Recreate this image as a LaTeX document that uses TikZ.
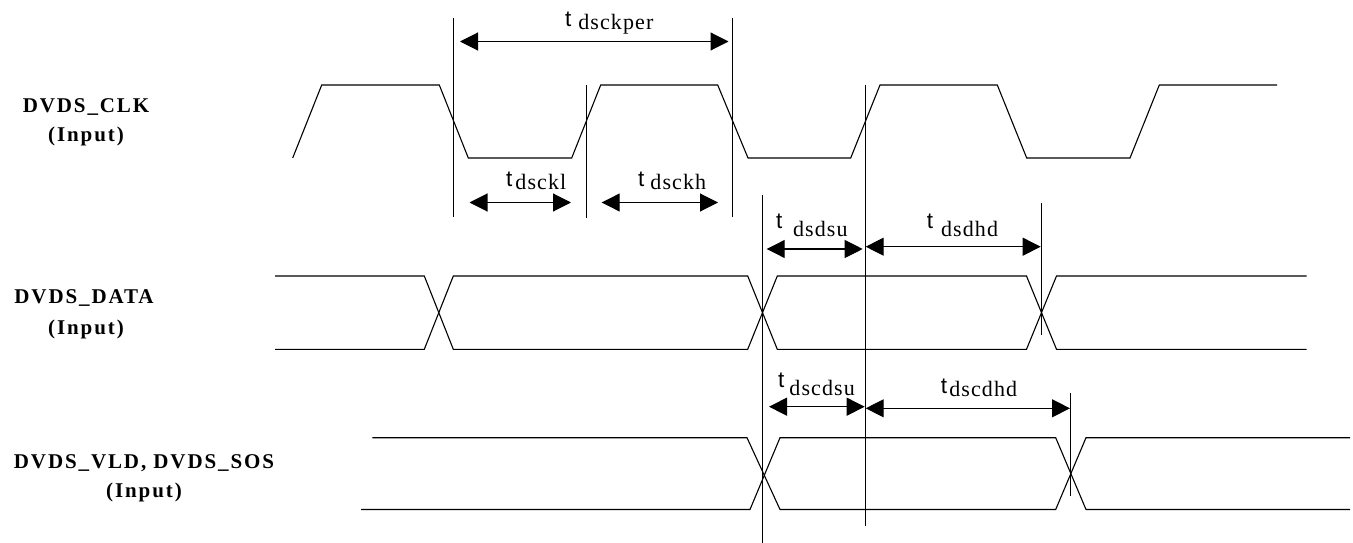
\documentclass[tikz,border=0pt]{standalone}
\usepackage{fontspec}
\setmainfont{Liberation Serif}
\newfontfamily\sigfont[LetterSpace=9]{Liberation Serif}
\newfontfamily\tfont{Liberation Sans}
\newfontfamily\subfont[LetterSpace=5]{Liberation Serif}
\usetikzlibrary{arrows.meta}
\newcommand\tlab[3]{{\fontsize{22.5}{24}\selectfont\tfont t}\hspace{#1pt}\raisebox{-#2pt}{\fontsize{22}{24}\selectfont\subfont #3}}
\tikzset{
  sig/.style={line width=1.1pt, line join=miter},
  guide/.style={line width=1.1pt},
  dimarrow/.style={line width=1.1pt, {Triangle[length=18pt,width=18pt]}-{Triangle[length=18pt,width=18pt]}},
  siglab/.style={font=\fontsize{21}{24}\selectfont\sigfont\bfseries, inner sep=0pt, anchor=base},
  tlabel/.style={inner sep=0pt, anchor=base west},
}
\begin{document}
\begin{tikzpicture}[x=1pt,y=-1pt]
\useasboundingbox (0,0) rectangle (1353,543);

% signal names
\node[siglab] (clkname) at (86,112) {DVDS\_CLK};
\node[siglab] (clkin) at (86,141) {(Input)};
\node[siglab] (dataname) at (84,303) {DVDS\_DATA};
\node[siglab] (datain) at (86,334) {(Input)};
\node[siglab] (vldname) at (144,468) {DVDS\_VLD, DVDS\_SOS};
\node[siglab] (vldin) at (144,497) {(Input)};

% clock
\draw[sig] (292.7,158) -- (321.7,85) -- (439.3,85) -- (468.3,158) -- (571.7,158)
  -- (600.7,85) -- (717.7,85) -- (748,158) -- (850.7,158) -- (880,85) -- (997.3,85)
  -- (1026.7,158) -- (1130,158) -- (1159.3,85) -- (1277,85);

% data
\draw[sig] (275,276) -- (424.3,276) -- (453.3,349.3) -- (747.7,349.3) -- (777.3,276)
  -- (1026.5,276) -- (1056.5,349.3) -- (1306.7,349.3);
\draw[sig] (275,349.3) -- (424.3,349.3) -- (453.3,276) -- (747.7,276) -- (777.3,349.3)
  -- (1026.5,349.3) -- (1056.5,276) -- (1306.7,276);

% valid / sos
\draw[sig] (372.3,437.7) -- (747,437.7) -- (780,509.5) -- (1055.7,509.5) -- (1086,437.7) -- (1350,437.7);
\draw[sig] (361,509.5) -- (750,509.5) -- (780,437.7) -- (1055.7,437.7) -- (1086,509.5) -- (1350,509.5);

% reference lines
\coordinate (A1) at (453.5,18);   \coordinate (A2) at (453.5,217);
\coordinate (B1) at (732.5,18);   \coordinate (B2) at (732.5,217);
\coordinate (C1) at (586.5,85);   \coordinate (C2) at (586.5,218);
\coordinate (D1) at (865.3,85);   \coordinate (D2) at (865.3,526);
\coordinate (E1) at (762.7,195);  \coordinate (E2) at (762.7,543);
\coordinate (F1) at (1041.5,203); \coordinate (F2) at (1041.5,335);
\coordinate (G1) at (1070.7,393); \coordinate (G2) at (1070.7,496);
\draw[guide] (A1) -- (A2);
\draw[guide] (B1) -- (B2);
\draw[guide] (C1) -- (C2);
\draw[guide] (D1) -- (D2);
\draw[guide] (E1) -- (E2);
\draw[guide] (F1) -- (F2);
\draw[guide] (G1) -- (G2);

% dimension arrows
\coordinate (per1) at (460,41.5);   \coordinate (per2) at (728.5,41.5);
\coordinate (ckl1) at (469.5,202.5); \coordinate (ckl2) at (571,202.5);
\coordinate (ckh1) at (601.7,202.5); \coordinate (ckh2) at (718,202.5);
\coordinate (dsu1) at (766.7,249);  \coordinate (dsu2) at (862.7,249);
\coordinate (dhd1) at (865.7,246.7); \coordinate (dhd2) at (1040.7,246.7);
\coordinate (csu1) at (769,406.7);  \coordinate (csu2) at (864.7,406.7);
\coordinate (chd1) at (865.7,408.3); \coordinate (chd2) at (1070,408.3);
\draw[dimarrow] (per1) -- (per2);
\draw[dimarrow] (ckl1) -- (ckl2);
\draw[dimarrow] (ckh1) -- (ckh2);
\draw[dimarrow] (dsu1) -- (dsu2);
\draw[dimarrow] (dhd1) -- (dhd2);
\draw[dimarrow] (csu1) -- (csu2);
\draw[dimarrow] (chd1) -- (chd2);

% timing labels
\node[tlabel] (lper) at (565,26.7) {\tlab{6.9}{2.6}{dsckper}};
\node[tlabel] (lckl) at (506,186) {\tlab{3}{3}{dsckl}};
\node[tlabel] (lckh) at (638,186) {\tlab{6}{3}{dsckh}};
\node[tlabel] (ldsu) at (776,228.3) {\tlab{10.6}{8.4}{dsdsu}};
\node[tlabel] (ldhd) at (926.7,228.3) {\tlab{8}{8.4}{dsdhd}};
\node[tlabel] (lcsu) at (778,387.3) {\tlab{5}{7.7}{dscdsu}};
\node[tlabel] (lchd) at (940.7,393.3) {\tlab{2.2}{3.4}{dscdhd}};
\end{tikzpicture}
\end{document}
